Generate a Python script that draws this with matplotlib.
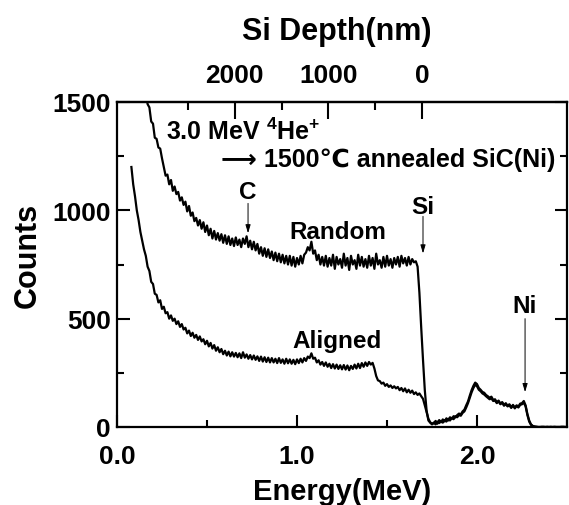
import numpy as np
import matplotlib
matplotlib.use("Agg")
import matplotlib.pyplot as plt
from matplotlib.ticker import FixedLocator, MultipleLocator

plt.rcParams['font.family'] = ['Liberation Sans', 'DejaVu Sans']
plt.rcParams['font.weight'] = 'bold'
plt.rcParams['mathtext.fontset'] = 'custom'
plt.rcParams['mathtext.rm'] = 'Liberation Sans:bold'
plt.rcParams['mathtext.bf'] = 'Liberation Sans:bold'
plt.rcParams['mathtext.it'] = 'Liberation Sans:bold'

# channel calibration (MeV per channel, first channel energy)
e_step = 0.01
random_e0 = 0.16
aligned_e0 = 0.08

# one row = 0.1 MeV
random_counts = [
    1540, 1490, 1475, 1410, 1400, 1335, 1330, 1290, 1285, 1240,
    1200, 1160, 1165, 1120, 1140, 1090, 1110, 1075, 1085, 1045,
    1060, 1025, 1040, 995, 1020, 975, 990, 950, 965, 930,
    955, 915, 945, 900, 930, 885, 915, 870, 905, 865,
    895, 860, 890, 850, 885, 845, 880, 840, 870, 835,
    875, 840, 865, 830, 870, 845, 880, 830, 860, 820,
    855, 815, 845, 800, 830, 790, 825, 785, 820, 780,
    810, 770, 805, 765, 800, 760, 795, 755, 790, 750,
    790, 745, 785, 740, 780, 750, 790, 755, 795, 805,
    830, 815, 855, 800, 815, 770, 795, 750, 785, 745,
    790, 740, 780, 745, 795, 730, 785, 750, 775, 735,
    800, 745, 780, 725, 790, 750, 770, 730, 795, 745,
    785, 740, 775, 735, 790, 745, 780, 730, 800, 750,
    770, 735, 785, 740, 790, 745, 775, 735, 780, 750,
    785, 740, 790, 755, 780, 745, 785, 750, 775, 760,
    765, 740, 620, 460, 310, 170, 75, 30, 20, 12,
    18, 28, 15, 32, 22, 35, 26, 40, 30, 45,
    38, 50, 44, 55, 62, 58, 72, 80, 100, 118,
    145, 170, 190, 205, 198, 180, 172, 162, 158, 148,
    142, 135, 140, 125, 128, 115, 122, 108, 115, 102,
    110, 98, 105, 92, 102, 90, 100, 95, 108, 110,
    120, 100, 60, 30, 12, 5, 2, 1, 0, 0,
    1, 0, 0, 1, 0, 0, 0, 1, 0, 0,
    0, 1, 0, 0, 0,
]

aligned_counts = [
    1200, 1120, 1065, 1000, 955, 900, 860, 820,
    790, 740, 720, 670, 660, 615, 610, 575, 585, 545,
    555, 525, 530, 500, 515, 490, 500, 475, 488, 462,
    475, 450, 458, 432, 445, 420, 435, 412, 425, 402,
    418, 395, 405, 382, 398, 372, 388, 362, 378, 352,
    368, 345, 360, 336, 352, 330, 348, 326, 345, 325,
    342, 322, 340, 318, 345, 320, 335, 315, 332, 312,
    330, 310, 326, 305, 325, 302, 322, 300, 320, 298,
    318, 298, 315, 295, 318, 296, 312, 292, 315, 294,
    312, 292, 310, 290, 312, 295, 315, 298, 318, 305,
    325, 318, 340, 315, 320, 298, 308, 288, 300, 282,
    298, 278, 292, 272, 290, 270, 288, 268, 285, 266,
    286, 265, 284, 262, 282, 268, 288, 270, 292, 272,
    295, 278, 298, 282, 300, 288, 296, 270, 235, 215,
    212, 200, 205, 190, 198, 185, 192, 180, 188, 178,
    185, 170, 180, 165, 178, 160, 172, 158, 168, 152,
    160, 148, 155, 142, 130, 100, 68, 38, 22, 15,
    20, 12, 25, 18, 28, 20, 32, 25, 38, 30,
    42, 36, 50, 45, 55, 52, 65, 72, 90, 110,
    135, 160, 180, 195, 188, 172, 165, 155, 150, 142,
    135, 128, 132, 120, 122, 110, 118, 105, 112, 98,
    105, 95, 100, 88, 98, 86, 96, 90, 102, 105,
    112, 95, 55, 25, 10, 4, 2, 1, 0, 0,
    0, 1, 0, 0, 0, 1, 0, 0, 0, 0,
    0, 0, 1, 0, 0,
]

# Si depth scale: surface edge energy and MeV per nm
si_surface_e = 1.694
mev_per_nm = 0.00052
depth_major = [2000, 1000, 0]
depth_minor = [2500, 1500, 500]

random_e = random_e0 + e_step * np.arange(len(random_counts))
aligned_e = aligned_e0 + e_step * np.arange(len(aligned_counts))


def e_to_depth(e):
    return (si_surface_e - np.asarray(e)) / mev_per_nm


def depth_to_e(d):
    return si_surface_e - np.asarray(d) * mev_per_nm


fig = plt.figure(figsize=(5.69, 5.06), dpi=100)
ax = fig.add_axes([117 / 569, 78 / 506, 450 / 569, 325 / 506])

ax.plot(random_e, random_counts, color='black', lw=1.6)
ax.plot(aligned_e, aligned_counts, color='black', lw=1.6)

ax.set_xlim(0, 2.5)
ax.set_ylim(0, 1500)
ax.set_xticks([0, 1, 2])
ax.set_xticklabels(['0.0', '1.0', '2.0'])
ax.xaxis.set_minor_locator(MultipleLocator(0.5))
ax.set_yticks([0, 500, 1000, 1500])
ax.yaxis.set_minor_locator(MultipleLocator(250))
ax.tick_params(which='both', direction='in', top=False, right=True, width=1.5)
ax.tick_params(which='major', length=9)
ax.tick_params(which='minor', length=5)
ax.tick_params(axis='x', labelsize=19, pad=12)
ax.tick_params(axis='y', labelsize=19, pad=4.5)
for s in ax.spines.values():
    s.set_linewidth(1.6)

secax = ax.secondary_xaxis('top', functions=(e_to_depth, depth_to_e))
secax.set_xticks(depth_major)
secax.xaxis.set_minor_locator(FixedLocator(depth_minor))
secax.tick_params(which='both', direction='in', width=1.5, labelsize=19, pad=11)
secax.tick_params(which='major', length=12)
secax.tick_params(which='minor', length=6)
secax.spines['top'].set_linewidth(1.6)
secax.set_xlabel('Si Depth(nm)', fontsize=22, fontweight='bold')
secax.xaxis.set_label_coords(0.488, 1.195, transform=ax.transAxes)

ax.set_xlabel('Energy(MeV)', fontsize=21, fontweight='bold')
ax.xaxis.set_label_coords(0.5, -0.155)
ax.set_ylabel('Counts', fontsize=22, fontweight='bold')
ax.yaxis.set_label_coords(-0.165, 0.532)

ax.text(0.272, 1366, '3.0 MeV $^{4}$He$^{+}$', fontsize=18, va='center', ha='left')
ax.text(0.578, 1236, '\u27f6 1500\u2103 annealed SiC(Ni)', fontsize=18, va='center', ha='left')

arrow = dict(arrowstyle='-|>,head_length=0.5,head_width=0.15', color='black', lw=0.7,
             shrinkA=0, shrinkB=0)
ax.text(0.728, 1088, 'C', fontsize=17.5, ha='center', va='center')
ax.annotate('', xy=(0.728, 894), xytext=(0.728, 1032), arrowprops=arrow)
ax.text(1.70, 1019, 'Si', fontsize=17.5, ha='center', va='center')
ax.annotate('', xy=(1.70, 801), xytext=(1.70, 972), arrowprops=arrow)
ax.text(2.267, 562, 'Ni', fontsize=17.5, ha='center', va='center')
ax.annotate('', xy=(2.267, 161), xytext=(2.267, 500), arrowprops=arrow)
ax.text(1.228, 904, 'Random', fontsize=17.5, ha='center', va='center')
ax.text(1.22, 400, 'Aligned', fontsize=17.5, ha='center', va='center')

fig.savefig('out.png', dpi=100)
